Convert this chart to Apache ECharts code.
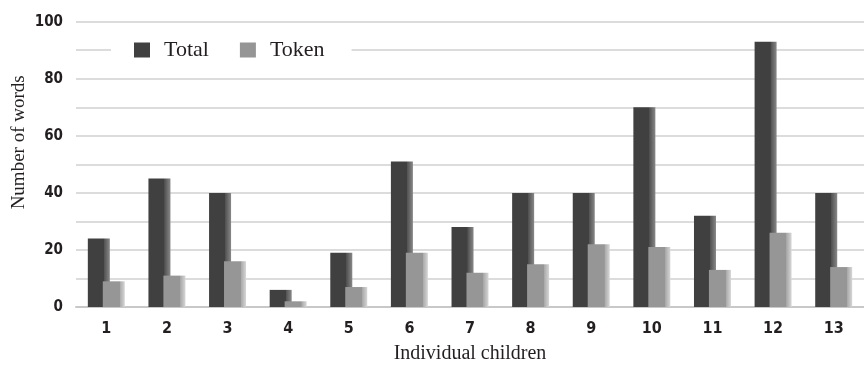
<!DOCTYPE html>
<html>
<head>
<meta charset="utf-8">
<script src="https://cdn.jsdelivr.net/npm/echarts@6/dist/echarts.min.js"></script>
<style>
html,body{margin:0;padding:0;background:#fff;}
#chart{width:864px;height:368px;}
</style>
</head>
<body>
<div id="chart"></div>
<script>
var categories = ['1','2','3','4','5','6','7','8','9','10','11','12','13'];
var totalValues = [24, 45, 40, 6, 19, 51, 28, 40, 40, 70, 32, 93, 40];
var tokenValues = [9, 11, 16, 2, 7, 19, 12, 15, 22, 21, 13, 26, 14];
var seriesNames = ['Total', 'Token'];
var yAxisTitle = 'Number of words';
var xAxisTitle = 'Individual children';

var tickFont = "'Liberation Sans Narrow', 'DejaVu Sans Condensed', 'DejaVu Sans', sans-serif";
var serifFont = "'Liberation Serif', 'DejaVu Serif', serif";

function grad(front, sideA, sideB, split) {
  return new echarts.graphic.LinearGradient(0, 0, 1, 0, [
    {offset: 0, color: front},
    {offset: split, color: front},
    {offset: split + 0.01, color: sideA},
    {offset: 1, color: sideB}
  ]);
}

var chart = echarts.init(document.getElementById('chart'), null, {renderer: 'canvas'});
chart.setOption({
  animation: false,
  backgroundColor: '#ffffff',
  grid: {left: 76, right: 0, top: 21.7, bottom: 61, containLabel: false, outerBoundsMode: 'none'},
  legend: {
    left: 111, top: 36,
    padding: [3, 27, 3, 23],
    backgroundColor: '#ffffff',
    itemWidth: 16, itemHeight: 15, itemGap: 31,
    icon: 'rect',
    data: [
      {name: seriesNames[0], itemStyle: {color: '#404040'}},
      {name: seriesNames[1], itemStyle: {color: '#959595'}}
    ],
    textStyle: {fontFamily: serifFont, fontSize: 22, color: '#231f20', padding: [0, 0, 0, 9]}
  },
  xAxis: {
    type: 'category',
    data: categories,
    name: xAxisTitle,
    nameLocation: 'middle',
    nameGap: 37,
    nameMoveOverlap: false,
    nameTextStyle: {fontFamily: serifFont, fontSize: 20, color: '#231f20'},
    axisLine: {show: true, lineStyle: {color: '#c8c8c8', width: 2}},
    axisTick: {show: false},
    axisLabel: {margin: 14, fontFamily: tickFont, fontWeight: 'bold', fontSize: 16, color: '#231f20'},
    splitLine: {show: false}
  },
  yAxis: {
    type: 'value',
    min: 0, max: 100, interval: 10,
    name: yAxisTitle,
    nameLocation: 'middle',
    nameGap: 47,
    nameMoveOverlap: false,
    nameTextStyle: {fontFamily: serifFont, fontSize: 19, color: '#231f20', padding: [0, 0, 0, 44]},
    axisLine: {show: false},
    axisTick: {show: false},
    axisLabel: {
      margin: 13, fontFamily: tickFont, fontWeight: 'bold', fontSize: 15, color: '#231f20',
      formatter: function (v) { return v % 20 === 0 ? String(v) : ''; }
    },
    splitLine: {show: true, lineStyle: {color: '#d0d0d0', width: 1.5}}
  },
  series: [
    {
      name: seriesNames[0], type: 'bar', data: totalValues,
      barWidth: 22, barGap: '-32%',
      itemStyle: {color: grad('#404040', '#505050', '#888888', 0.72)}
    },
    {
      name: seriesNames[1], type: 'bar', data: tokenValues,
      barWidth: 22,
      itemStyle: {color: grad('#969696', '#a8a8a8', '#d6d6d6', 0.76)}
    }
  ]
});
</script>
</body>
</html>
